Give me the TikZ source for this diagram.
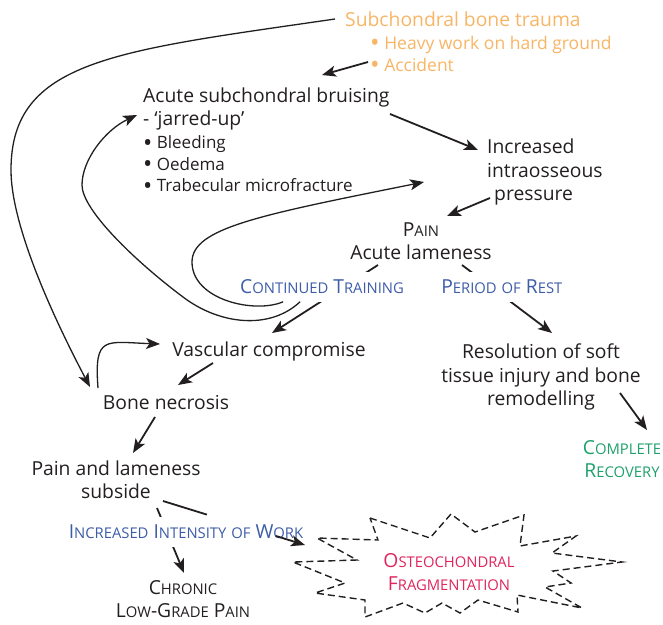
\documentclass[tikz,border=0pt]{standalone}
\usepackage{fontspec}
\setmainfont{Open Sans}
\usepackage{xcolor}
\usetikzlibrary{positioning, arrows.meta}

\definecolor{traumaorange}{HTML}{F8B565}
\definecolor{pathblue}{HTML}{3D5DA9}
\definecolor{recgreen}{HTML}{1DA06B}
\definecolor{fragred}{HTML}{E0245E}
\definecolor{inkgray}{HTML}{231F20}

% lower part of the hand made small capitals
\newcommand{\lowsc}[1]{{\fontsize{14.8}{17}\selectfont #1}}
% a rounder, bigger bullet
\newcommand{\blt}{\raisebox{-2.4pt}[0pt][0pt]{\scalebox{1.45}{\textbullet}}}

\begin{document}
\begin{tikzpicture}[
    x=1pt, y=1pt,
    txt/.style={
        inner sep=2pt,
        align=center,
        text=inkgray,
        font=\fontsize{19.3}{23.5}\selectfont
    },
    listtxt/.style={
        inner sep=2pt,
        align=left,
        text=inkgray,
        font=\fontsize{17}{21.5}\selectfont
    },
    branch/.style={
        fill=white,
        inner xsep=2pt,
        inner ysep=8pt,
        text=pathblue,
        font=\fontsize{19.3}{21}\selectfont
    },
    arrow/.style={
        line width=1.8pt,
        inkgray,
        -{Stealth[length=14pt, width=11pt, inset=3.5pt]}
    },
    loop/.style={
        line width=1.3pt,
        inkgray,
        -{Stealth[length=14pt, width=11pt, inset=3.5pt]}
    },
    burst/.style={
        line width=1.4pt,
        inkgray,
        dash pattern=on 7pt off 4pt
    }
]

\useasboundingbox (0,0) rectangle (663,-624);

% Cause
\node[txt, text=traumaorange, anchor=west] (trauma) at (343,-19) {Subchondral bone trauma};
\node[txt, text=traumaorange, align=left, anchor=west, font=\fontsize{17.5}{22}\selectfont]
    (causes) at (368,-54) {
    \blt\ Heavy work on hard ground\\
    \blt\ Accident
};

% Main chain
\node[txt, align=left, anchor=west] (bruise) at (141,-109) {
    Acute subchondral bruising\\
    - ‘jarred-up’
};
\node[listtxt, anchor=west] (signs) at (141,-164) {
    \blt\ Bleeding\\
    \blt\ Oedema\\
    \blt\ Trabecular microfracture
};
\node[txt, align=left, anchor=west] (pressure) at (485,-172) {
    Increased\\
    intraosseous\\
    \hspace{7pt}pressure
};
\node[txt] (lame) at (421,-241) {P\lowsc{AIN}\\Acute lameness};

% Training branch
\node[txt] (vasc) at (269,-351) {Vascular compromise};
\node[txt] (necr) at (166,-403) {Bone necrosis};
\node[txt] (subs) at (116,-480) {Pain and lameness\\subside};
\node[txt] (chron) at (183,-599) {C\lowsc{HRONIC}\\L\lowsc{OW}-G\lowsc{RADE} P\lowsc{AIN}};
\node[txt, text=fragred] (frag) at (449,-572) {O\lowsc{STEOCHONDRAL}\\F\lowsc{RAGMENTATION}};

% Rest branch
\node[txt] (res) at (541,-377) {
    Resolution of soft\\
    tissue injury and bone\\
    remodelling
};
\node[txt, text=recgreen] (rec) at (622,-459) {C\lowsc{OMPLETE}\\R\lowsc{ECOVERY}};

% Starburst round the fragmentation
\draw[burst] (370,-518) -- (430,-538) -- (451,-514) -- (475,-532) -- (524,-515)
    -- (520,-546) -- (576,-536) -- (552,-553) -- (622,-562) -- (553,-571)
    -- (571,-583) -- (545,-587) -- (582,-608) -- (517,-595) -- (518,-612)
    -- (478,-600) -- (460,-613) -- (442,-603) -- (425,-613) -- (403,-603)
    -- (365,-617) -- (365,-600) -- (315,-593) -- (345,-583) -- (293,-562)
    -- (357,-560) -- (317,-538) -- (378,-540) -- cycle;

% Arrows
\draw[arrow] ([yshift=-8pt]causes.west) -- ([shift={(181,34)}]bruise.west);
\draw[arrow] ([shift={(249,-5)}]bruise.west) -- ([shift={(-7,22)}]pressure.west);
\draw[arrow] ([shift={(5,-26)}]pressure.west) -- ([shift={(26,25)}]lame.center);

\draw[arrow] ([shift={(-43,-24)}]lame.center) -- node[branch, pos=0.32, xshift=-22pt] (ct)
    {C\lowsc{ONTINUED} T\lowsc{RAINING}} ([shift={(3,18)}]vasc.center);
\draw[arrow] ([shift={(41,-24)}]lame.center) -- node[branch, pos=0.32, xshift=11pt] (rest)
    {P\lowsc{ERIOD} \lowsc{OF} R\lowsc{EST}} ([shift={(11,44)}]res.center);

\draw[arrow] ([shift={(-56,-12)}]vasc.center) -- ([shift={(12,18)}]necr.center);
\draw[arrow] ([shift={(-11,-14)}]necr.center) -- ([shift={(17,27)}]subs.center);
\draw[arrow] ([shift={(79,-16)}]res.center) -- ([shift={(25,29)}]rec.center);

\draw[arrow] ([shift={(41,-28)}]subs.center) -- node[branch, pos=0.37, xshift=19pt] (iiw)
    {I\lowsc{NCREASED} I\lowsc{NTENSITY} \lowsc{OF} W\lowsc{ORK}} ([shift={(1,26)}]chron.center);
\draw[arrow, dash pattern=on 46pt off 72pt on 100pt] ([shift={(47,-21)}]subs.center)
    -- ([shift={(-144,27)}]frag.center);

% Feedback curves
\draw[loop] ([xshift=-8pt]trauma.west) .. controls (115,-51) and (11,-60) .. (11,-170)
    .. controls (11,-230) and (60,-330) .. ([shift={(-76,16)}]necr.center);
\draw[loop] ([shift={(-68,15)}]necr.center) .. controls (94,-335) and (105,-342)
    .. ([shift={(-109,7)}]vasc.center);
\draw[loop] ([shift={(-22,-15)}]ct.center) .. controls (270,-330) and (220,-325) .. (183,-297)
    .. controls (135,-261) and (82,-210) .. (82,-185)
    .. controls (82,-160) and (105,-130) .. ([shift={(-4,-6)}]bruise.west);
\draw[loop] ([shift={(-39,-15)}]ct.center) .. controls (255,-314) and (192,-300) .. (192,-262)
    .. controls (192,-228) and (260,-215) .. ([shift={(-61,-10)}]pressure.west);

\end{tikzpicture}
\end{document}
